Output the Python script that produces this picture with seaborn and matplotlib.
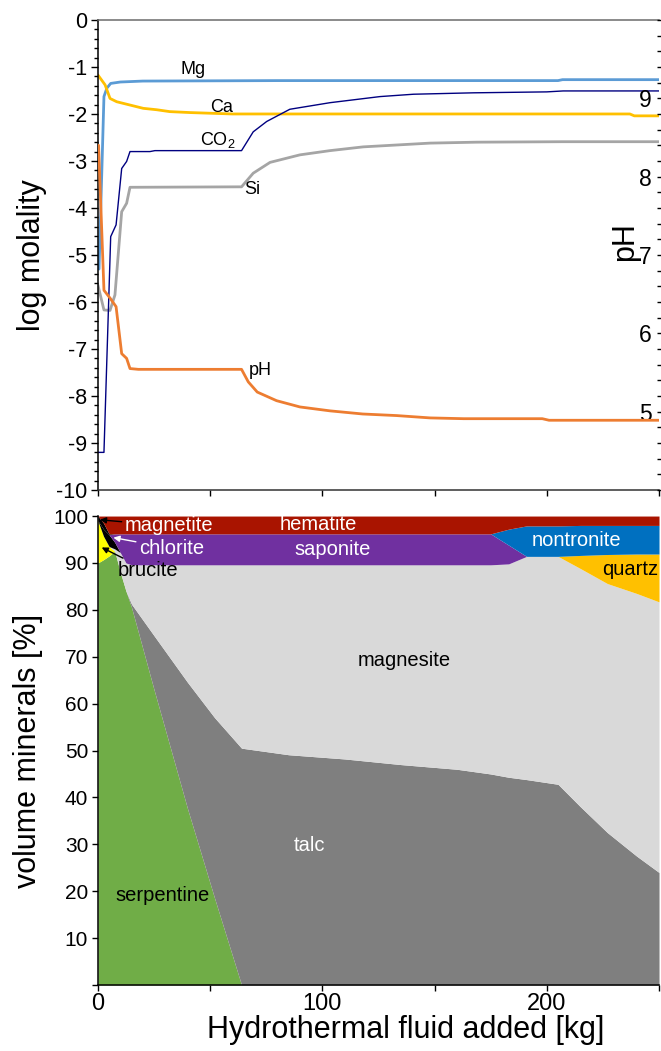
import matplotlib
matplotlib.use("Agg")
import matplotlib.pyplot as plt
import seaborn as sns
from matplotlib.ticker import MultipleLocator

# ---------------- fluid chemistry (log molality / pH) ----------------
mg_x = [0.5, 2.7, 4, 5.7, 10, 20, 80, 205, 207, 250]
mg_y = [-5.3, -1.63, -1.45, -1.35, -1.32, -1.30, -1.29, -1.29, -1.27, -1.27]

ca_x = [0, 3.2, 5.4, 8.4, 14.3, 20.2, 26.2, 32, 41, 60, 237, 239, 250]
ca_y = [-1.17, -1.38, -1.67, -1.74, -1.81, -1.88, -1.91, -1.95, -1.97, -2.0, -2.0, -2.04, -2.04]

co2_x = [0, 2.7, 5.7, 8.1, 10.6, 12.8, 14.3, 23.2, 25.4, 64, 69.2, 75.2, 85.5,
         103.4, 125.7, 140.6, 167.3, 200, 207.3, 250]
co2_y = [-9.2, -9.2, -4.61, -4.36, -3.16, -3.01, -2.80, -2.80, -2.78, -2.78, -2.38,
         -2.16, -1.90, -1.76, -1.63, -1.58, -1.55, -1.53, -1.51, -1.51]

si_x = [0, 2.7, 5.4, 7.6, 10.6, 12.8, 14.3, 64, 69.2, 76.7, 90, 103.4, 118.2,
        148, 168.8, 207.3, 250]
si_y = [-5.64, -6.17, -6.18, -5.85, -4.08, -3.90, -3.56, -3.55, -3.26, -3.03,
        -2.87, -2.78, -2.70, -2.62, -2.60, -2.59, -2.59]

ph_x = [0.3, 2.7, 5.4, 8.1, 10.6, 12.8, 14.3, 18, 64, 67, 71, 79.6, 90, 103.4,
        118, 133, 148, 163, 198, 201, 250]
ph_y = [8.40, 6.55, 6.45, 6.34, 5.74, 5.68, 5.55, 5.54, 5.54, 5.38, 5.25, 5.14,
        5.06, 5.01, 4.97, 4.95, 4.92, 4.91, 4.91, 4.89, 4.89]

# ---------------- mineral assemblage (volume %) ----------------
fluid_kg = [0, 2.5, 5, 7.5, 10, 12.5, 15, 25, 40, 52, 64, 85, 110, 135, 160,
            175, 183, 191, 205, 215, 227, 240, 250]
serpentine = [90, 90.7, 91.5, 92.5, 88, 84, 80.5, 63, 37.5, 18.5, 0, 0, 0, 0, 0,
              0, 0, 0, 0, 0, 0, 0, 0]
talc = [0, 0, 0, 0, 0, 0, 0.7, 11.5, 27, 38.5, 50.5, 49.1, 48.2, 47, 46,
        45, 44.3, 43.8, 42.8, 38, 32.5, 27.5, 24]
brucite = [9, 5, 2, 0, 0, 0, 0, 0, 0, 0, 0, 0, 0, 0, 0,
           0, 0, 0, 0, 0, 0, 0, 0]
magnesite = [0, 0, 0, 0.5, 4.2, 6, 8.4, 15.1, 25.1, 32.6, 39.1, 40.5, 41.4, 42.6, 43.6,
             44.6, 45.5, 47.6, 48.6, 50.8, 53.1, 56, 57.7]
quartz = [0, 0, 0, 0, 0, 0, 0, 0, 0, 0, 0, 0, 0, 0, 0,
          0, 0, 0, 0, 2.8, 6.2, 8.4, 10.2]
chlorite = [0, 1.5, 2.5, 1.4, 0, 0, 0, 0, 0, 0, 0, 0, 0, 0, 0,
            0, 0, 0, 0, 0, 0, 0, 0]
saponite = [0, 0, 0, 1.8, 4.0, 6.2, 6.6, 6.6, 6.6, 6.6, 6.6, 6.6, 6.6, 6.6, 6.6,
            6.6, 4.0, 0, 0, 0, 0, 0, 0]
nontronite = [0, 0, 0, 0, 0, 0, 0, 0, 0, 0, 0, 0, 0, 0, 0,
              0, 3.4, 6.5, 6.5, 6.4, 6.2, 6.1, 6.1]
magnetite = [1, 1.3, 0.2, 0, 0, 0, 0, 0, 0, 0, 0, 0, 0, 0, 0,
             0, 0, 0, 0, 0, 0, 0, 0]
hematite = [0, 1.5, 3.8, 3.8, 3.8, 3.8, 3.8, 3.8, 3.8, 3.8, 3.8, 3.8, 3.8, 3.8, 3.8,
            3.8, 2.8, 2.1, 2.1, 2.0, 2.0, 2.0, 2.0]

x_ticks = [0, 50, 100, 150, 200, 250]
x_tick_labels = ["0", "", "100", "", "200", ""]
logm_ticks = list(range(-10, 1))
ph_ticks = [5, 6, 7, 8, 9]
vol_ticks = list(range(0, 101, 10))
vol_tick_labels = [""] + [str(v) for v in range(10, 101, 10)]

# ---------------- style ----------------
sns.set_theme(style="ticks")
plt.rcParams["font.family"] = ["Liberation Sans", "DejaVu Sans"]
plt.rcParams["mathtext.fontset"] = "custom"
plt.rcParams["mathtext.rm"] = "Liberation Sans"
plt.rcParams["mathtext.it"] = "Liberation Sans"
plt.rcParams["mathtext.default"] = "regular"
plt.rcParams["axes.linewidth"] = 1.1
for key in ["text.color", "axes.labelcolor", "xtick.color", "ytick.color", "axes.edgecolor"]:
    plt.rcParams[key] = "black"

fig = plt.figure(figsize=(6.61, 10.51), dpi=100)
ax_top = fig.add_axes([0.1481, 0.5338, 0.8489, 0.4472])
ax_bot = fig.add_axes([0.1481, 0.0628, 0.8489, 0.4462])

# ---------------- upper panel: fluid composition ----------------
series = [
    (mg_x, mg_y, "#5B9BD5", 2.0),
    (ca_x, ca_y, "#FFC000", 2.0),
    (si_x, si_y, "#A5A5A5", 2.0),
    (co2_x, co2_y, "#000080", 1.0),
]
for xs, ys, col, lw in series:
    sns.lineplot(x=xs, y=ys, ax=ax_top, color=col, linewidth=lw,
                 estimator=None, sort=False)

ax_top.set_xlim(0, 250)
ax_top.set_ylim(-10, 0)
ax_top.set_xticks(x_ticks)
ax_top.set_xticklabels([])
ax_top.set_yticks(logm_ticks)
ax_top.set_yticklabels([str(t) for t in logm_ticks])
ax_top.yaxis.set_minor_locator(MultipleLocator(0.2))
ax_top.tick_params(axis="y", which="major", length=5, width=1, labelsize=15.5, pad=3)
ax_top.tick_params(axis="y", which="minor", length=3, width=1, left=True)
ax_top.tick_params(axis="x", which="major", length=4, width=1)
ax_top.set_ylabel("log molality", fontsize=22, labelpad=6)
ax_top.spines["top"].set_color("#6b6b6b")
ax_top.spines["right"].set_visible(False)
ax_top.spines["bottom"].set_color("#333333")

ax_ph = ax_top.twinx()
sns.lineplot(x=ph_x, y=ph_y, ax=ax_ph, color="#ED7D31", linewidth=2.0,
             estimator=None, sort=False)
ax_ph.set_ylim(4, 10)
ax_ph.set_xlim(0, 250)
ax_ph.set_yticks(ph_ticks)
ax_ph.set_yticklabels([str(t) for t in ph_ticks])
ax_ph.yaxis.set_minor_locator(MultipleLocator(0.2))
ax_ph.tick_params(axis="y", which="both", direction="inout", length=3, width=1,
                  labelsize=16.5, pad=-7)
for lab in ax_ph.get_yticklabels():
    lab.set_horizontalalignment("right")
for side in ["top", "right", "left", "bottom"]:
    ax_ph.spines[side].set_visible(False)
ax_ph.set_ylabel("pH", fontsize=22, rotation=90)
ax_ph.yaxis.set_label_coords(0.912, 0.528)

label_kw = dict(fontsize=13, ha="center", va="center", color="black")
ax_top.text(42.5, -1.06, "Mg", **label_kw)
ax_top.text(55.3, -1.87, "Ca", **label_kw)
ax_top.text(53.5, -2.55, "CO$_2$", **label_kw)
ax_top.text(68.9, -3.61, "Si", **label_kw)
ax_top.text(72.2, -7.46, "pH", **label_kw)

# ---------------- lower panel: mineral volumes ----------------
layers = [serpentine, talc, brucite, magnesite, quartz, chlorite,
          saponite, nontronite, magnetite, hematite]
colors = ["#70AD47", "#7F7F7F", "#FFFF00", "#D9D9D9", "#FFC000", "#000000",
          "#7030A0", "#0070C0", "#000000", "#A91400"]
ax_bot.stackplot(fluid_kg, *layers, colors=colors, linewidth=0)

ax_bot.set_xlim(0, 250)
ax_bot.set_ylim(0, 100)
ax_bot.set_xticks(x_ticks)
ax_bot.set_xticklabels(x_tick_labels)
ax_bot.set_yticks(vol_ticks)
ax_bot.set_yticklabels(vol_tick_labels)
ax_bot.tick_params(axis="both", which="major", length=4, width=1)
ax_bot.tick_params(axis="y", labelsize=15, pad=3)
ax_bot.tick_params(axis="x", labelsize=17, pad=2)
ax_bot.spines["top"].set_visible(False)
ax_bot.spines["right"].set_visible(False)
ax_bot.set_ylabel("volume minerals [%]", fontsize=22, labelpad=7)
ax_bot.set_xlabel("Hydrothermal fluid added [kg]", fontsize=22, labelpad=0, x=0.549)

mk = dict(fontsize=14.5, ha="center", va="center")
ax_bot.text(98.3, 98.2, "hematite", color="white", **mk)
ax_bot.text(104.5, 92.9, "saponite", color="white", **mk)
ax_bot.text(213.3, 94.8, "nontronite", color="white", **mk)
ax_bot.text(237, 88.6, "quartz", color="black", **mk)
ax_bot.text(136.5, 69.2, "magnesite", color="black", **mk)
ax_bot.text(94.5, 29.7, "talc", color="white", **mk)
ax_bot.text(28.6, 19, "serpentine", color="black", **mk)

arrow = dict(arrowstyle="-|>", lw=1.0, mutation_scale=9, shrinkA=0, shrinkB=0)
ax_bot.annotate("magnetite", xy=(0.9, 99.2), xytext=(31.8, 97.9), color="white",
                arrowprops=dict(color="black", **arrow), **mk)
ax_bot.annotate("chlorite", xy=(6.9, 95.4), xytext=(32.9, 93.1), color="white",
                arrowprops=dict(color="white", **arrow), **mk)
ax_bot.annotate("brucite", xy=(1.7, 93.3), xytext=(22.5, 88.3), color="black",
                arrowprops=dict(color="black", **arrow), **mk)

fig.savefig("out.png", dpi=100)
